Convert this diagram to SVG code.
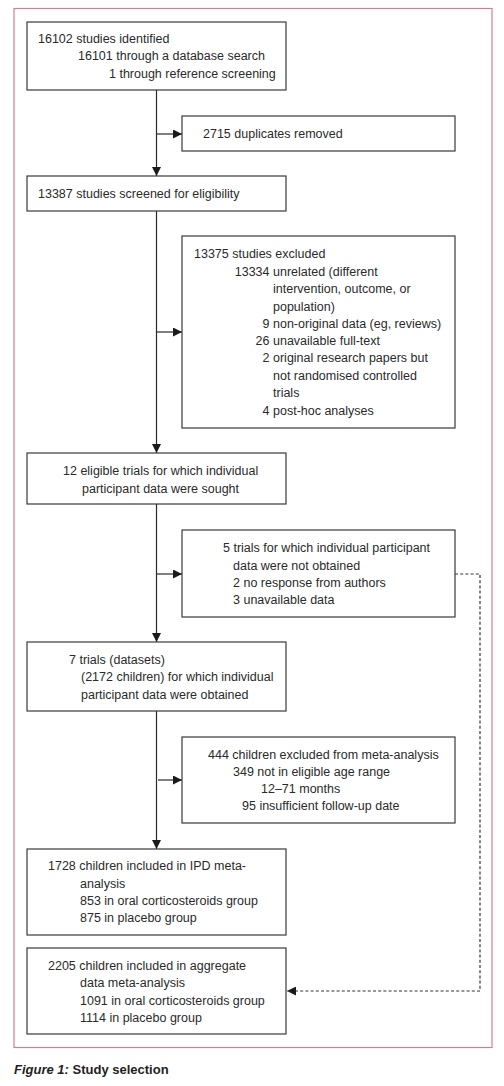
<svg xmlns="http://www.w3.org/2000/svg" width="504" height="1086" viewBox="0 0 504 1086">
<defs>
<style>
.box{fill:#fff;stroke:#3a3a3a;stroke-width:1.2}
.t{font-family:"Liberation Sans",Arial,sans-serif;font-size:12.5px;fill:#2a2a2a}
.r{text-anchor:end}
.ln{stroke:#2a2a2a;stroke-width:1.2;fill:none}
.dash{stroke:#333;stroke-width:1.2;fill:none;stroke-dasharray:3 2.2}
</style>
<marker id="ah" viewBox="0 0 10 10" refX="10" refY="5" markerWidth="9" markerHeight="9" markerUnits="userSpaceOnUse" orient="auto">
<path d="M0,0 L10,5 L0,10 Z" fill="#1a1a1a"/>
</marker>
</defs>
<rect x="0" y="0" width="504" height="1086" fill="#fff"/>
<rect id="frame" x="14" y="8.5" width="478" height="1039" fill="none" stroke="#cf7f95" stroke-width="1.2"/>

<g id="connectors">
<line class="ln" x1="156.5" y1="90" x2="156.5" y2="176" marker-end="url(#ah)"/>
<line class="ln" x1="156.5" y1="134" x2="182" y2="134" marker-end="url(#ah)"/>
<line class="ln" x1="156.5" y1="211" x2="156.5" y2="453" marker-end="url(#ah)"/>
<line class="ln" x1="156.5" y1="332" x2="182" y2="332" marker-end="url(#ah)"/>
<line class="ln" x1="156.5" y1="504" x2="156.5" y2="642" marker-end="url(#ah)"/>
<line class="ln" x1="156.5" y1="574" x2="182" y2="574" marker-end="url(#ah)"/>
<line class="ln" x1="156.5" y1="711" x2="156.5" y2="849" marker-end="url(#ah)"/>
<line class="ln" x1="158" y1="780" x2="182" y2="780" marker-end="url(#ah)"/>
<polyline class="dash" points="455,574 480,574 480,991 287,991" marker-end="url(#ah)"/>
</g>

<g id="n1">
<rect class="box" x="27" y="22" width="259" height="68"/>
<text class="t" x="38" y="42.5">16102 studies identified</text>
<text class="t" x="78" y="60">16101 through a database search</text>
<text class="t" x="109" y="77.5">1 through reference screening</text>
</g>

<g id="n2">
<rect class="box" x="182" y="116" width="273" height="35"/>
<text class="t" x="203" y="138">2715 duplicates removed</text>
</g>

<g id="n3">
<rect class="box" x="27" y="176" width="259" height="35"/>
<text class="t" x="38" y="197.5">13387 studies screened for eligibility</text>
</g>

<g id="n4">
<rect class="box" x="182" y="236" width="273" height="192"/>
<text class="t" x="194" y="257.5">13375 studies excluded</text>
<text class="t r" x="269.5" y="275.5">13334</text>
<text class="t" x="273" y="275.5">unrelated (different</text>
<text class="t" x="273" y="293">intervention, outcome, or</text>
<text class="t" x="273" y="310.5">population)</text>
<text class="t r" x="269.5" y="328">9</text>
<text class="t" x="273" y="328">non-original data (eg, reviews)</text>
<text class="t r" x="269.5" y="345">26</text>
<text class="t" x="273" y="345">unavailable full-text</text>
<text class="t r" x="269.5" y="362">2</text>
<text class="t" x="273" y="362">original research papers but</text>
<text class="t" x="273" y="379.5">not randomised controlled</text>
<text class="t" x="273" y="397">trials</text>
<text class="t r" x="269.5" y="415">4</text>
<text class="t" x="273" y="415">post-hoc analyses</text>
</g>

<g id="n5">
<rect class="box" x="27" y="453" width="259" height="51"/>
<text class="t" x="63" y="475">12 eligible trials for which individual</text>
<text class="t" x="82" y="492.5">participant data were sought</text>
</g>

<g id="n6">
<rect class="box" x="182" y="530" width="273" height="87"/>
<text class="t" x="223" y="552">5 trials for which individual participant</text>
<text class="t" x="233" y="569.5">data were not obtained</text>
<text class="t" x="233" y="587">2 no response from authors</text>
<text class="t" x="233" y="604">3 unavailable data</text>
</g>

<g id="n7">
<rect class="box" x="27" y="642" width="259" height="69"/>
<text class="t" x="69" y="664">7 trials (datasets)</text>
<text class="t" x="81" y="681">(2172 children) for which individual</text>
<text class="t" x="81" y="698.5">participant data were obtained</text>
</g>

<g id="n8">
<rect class="box" x="182" y="737" width="273" height="86"/>
<text class="t" x="208" y="758.5">444 children excluded from meta-analysis</text>
<text class="t" x="233" y="776">349 not in eligible age range</text>
<text class="t" x="261" y="792.5">12–71 months</text>
<text class="t" x="242" y="810">95 insufficient follow-up date</text>
</g>

<g id="n9">
<rect class="box" x="27" y="849" width="259" height="86"/>
<text class="t" x="48" y="870">1728 children included in IPD meta-</text>
<text class="t" x="80" y="887.5">analysis</text>
<text class="t" x="80" y="904.5">853 in oral corticosteroids group</text>
<text class="t" x="80" y="922">875 in placebo group</text>
</g>

<g id="n10">
<rect class="box" x="27" y="948" width="259" height="86"/>
<text class="t" x="48" y="969.5">2205 children included in aggregate</text>
<text class="t" x="80" y="987">data meta-analysis</text>
<text class="t" x="80" y="1004.5">1091 in oral corticosteroids group</text>
<text class="t" x="80" y="1022">1114 in placebo group</text>
</g>

<text id="caption" x="14" y="1073.5" font-family="'Liberation Sans',Arial,sans-serif" font-size="13" font-weight="bold" fill="#222"><tspan font-style="italic">Figure 1:</tspan> Study selection</text>
</svg>
